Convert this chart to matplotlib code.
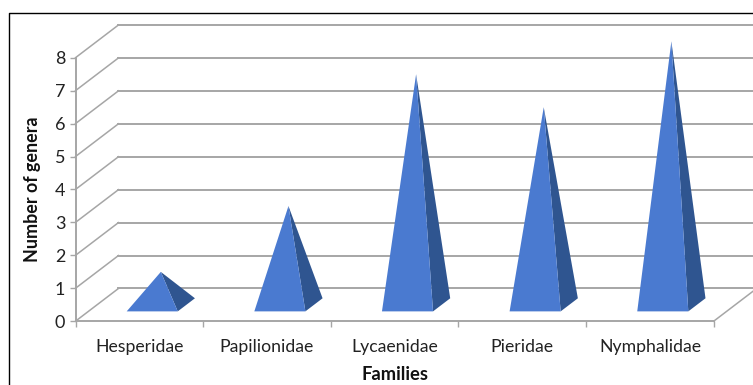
import matplotlib
matplotlib.use("Agg")
import matplotlib.pyplot as plt
from matplotlib.lines import Line2D
from matplotlib.patches import Polygon

# Chart data
families = ["Hesperidae", "Papilionidae", "Lycaenidae", "Pieridae", "Nymphalidae"]
genera = [1, 3, 7, 6, 8]
y_ticks = [0, 1, 2, 3, 4, 5, 6, 7, 8]

W, H = 753, 385
GRID = "#a6a6a6"
FRONT = "#4a7ad0"
SIDE = "#2f5590"

# Oblique depth of the fake 3D box, in axis units
DEPTH_X = 43 / 127.7
DEPTH_Y = 32.7 / 32.9
HALF = 0.2


def project(x, y, d):
    """Oblique projection of a point at depth d (0 front, 1 back)"""
    return (x + d * DEPTH_X, y + d * DEPTH_Y)


def main():
    plt.rcParams["font.family"] = ["Lato", "DejaVu Sans"]

    fig = plt.figure(figsize=(W / 100, H / 100), dpi=100)
    ax = fig.add_axes([75.5 / W, 1 - 321.2 / H, (713.7 - 75.5) / W, (320.5 - 57) / H])
    ax.set_xlim(0, len(families))
    ax.set_ylim(0, 8)
    ax.patch.set_alpha(0)

    # Walls: side grid lines and back grid lines running off to the right
    for level in y_ticks:
        x0, y0 = project(0, level, 0)
        x1, y1 = project(0, level, 1)
        ax.plot([x0, x1], [y0, y1], color=GRID, lw=1.1, clip_on=False, zorder=1)
        ax.plot([x1, 5.4], [y1, y1], color=GRID, lw=1.4, clip_on=False, zorder=1)
    x0, y0 = project(len(families), 0, 0)
    x1, y1 = project(len(families), 0, 1)
    ax.plot([x0, x1], [y0, y1], color=GRID, lw=1.1, clip_on=False, zorder=1)

    # Pyramids
    for i, value in enumerate(genera):
        c = i + 0.5
        front_left = project(c - HALF, 0, 0.5 - HALF)
        front_right = project(c + HALF, 0, 0.5 - HALF)
        back_right = project(c + HALF, 0, 0.5 + HALF)
        apex = project(c, value, 0.5)
        ax.add_patch(Polygon([front_right, back_right, apex], closed=True, fc=SIDE, ec="none",
                             clip_on=False, zorder=3))
        ax.add_patch(Polygon([front_left, front_right, apex], closed=True, fc=FRONT, ec="none",
                             clip_on=False, zorder=4))

    # Axes
    for side in ("top", "right"):
        ax.spines[side].set_visible(False)
    for side in ("left", "bottom"):
        ax.spines[side].set_color(GRID)
        ax.spines[side].set_linewidth(1.4)
    ax.set_yticks(y_ticks)
    ax.tick_params(axis="y", length=4.3, width=1, color=GRID, labelsize=13, labelcolor="#222222", pad=3)
    ax.set_xticks(range(len(families) + 1))
    ax.set_xticklabels([])
    ax.set_xticks([i + 0.5 for i in range(len(families))], families, minor=True)
    ax.tick_params(axis="x", which="major", length=4.3, width=1, color=GRID)
    ax.tick_params(axis="x", which="minor", length=0, labelsize=12.7, labelcolor="#222222", pad=12.5)

    fig.text(33 / W, 1 - 189 / H, "Number of genera", rotation=90, ha="center", va="center",
             fontsize=12.9, fontweight="bold", color="#111111")
    fig.text(395 / W, 1 - 374 / H, "Families", ha="center", va="center",
             fontsize=13.2, fontweight="bold", color="#111111")

    # Chart frame, cropped at the right and bottom
    fig.add_artist(Line2D([8.5 / W, 8.5 / W, 1], [0, 1 - 12.5 / H, 1 - 12.5 / H], color="black", lw=1))

    fig.savefig("out.png", dpi=100)


if __name__ == "__main__":
    main()
